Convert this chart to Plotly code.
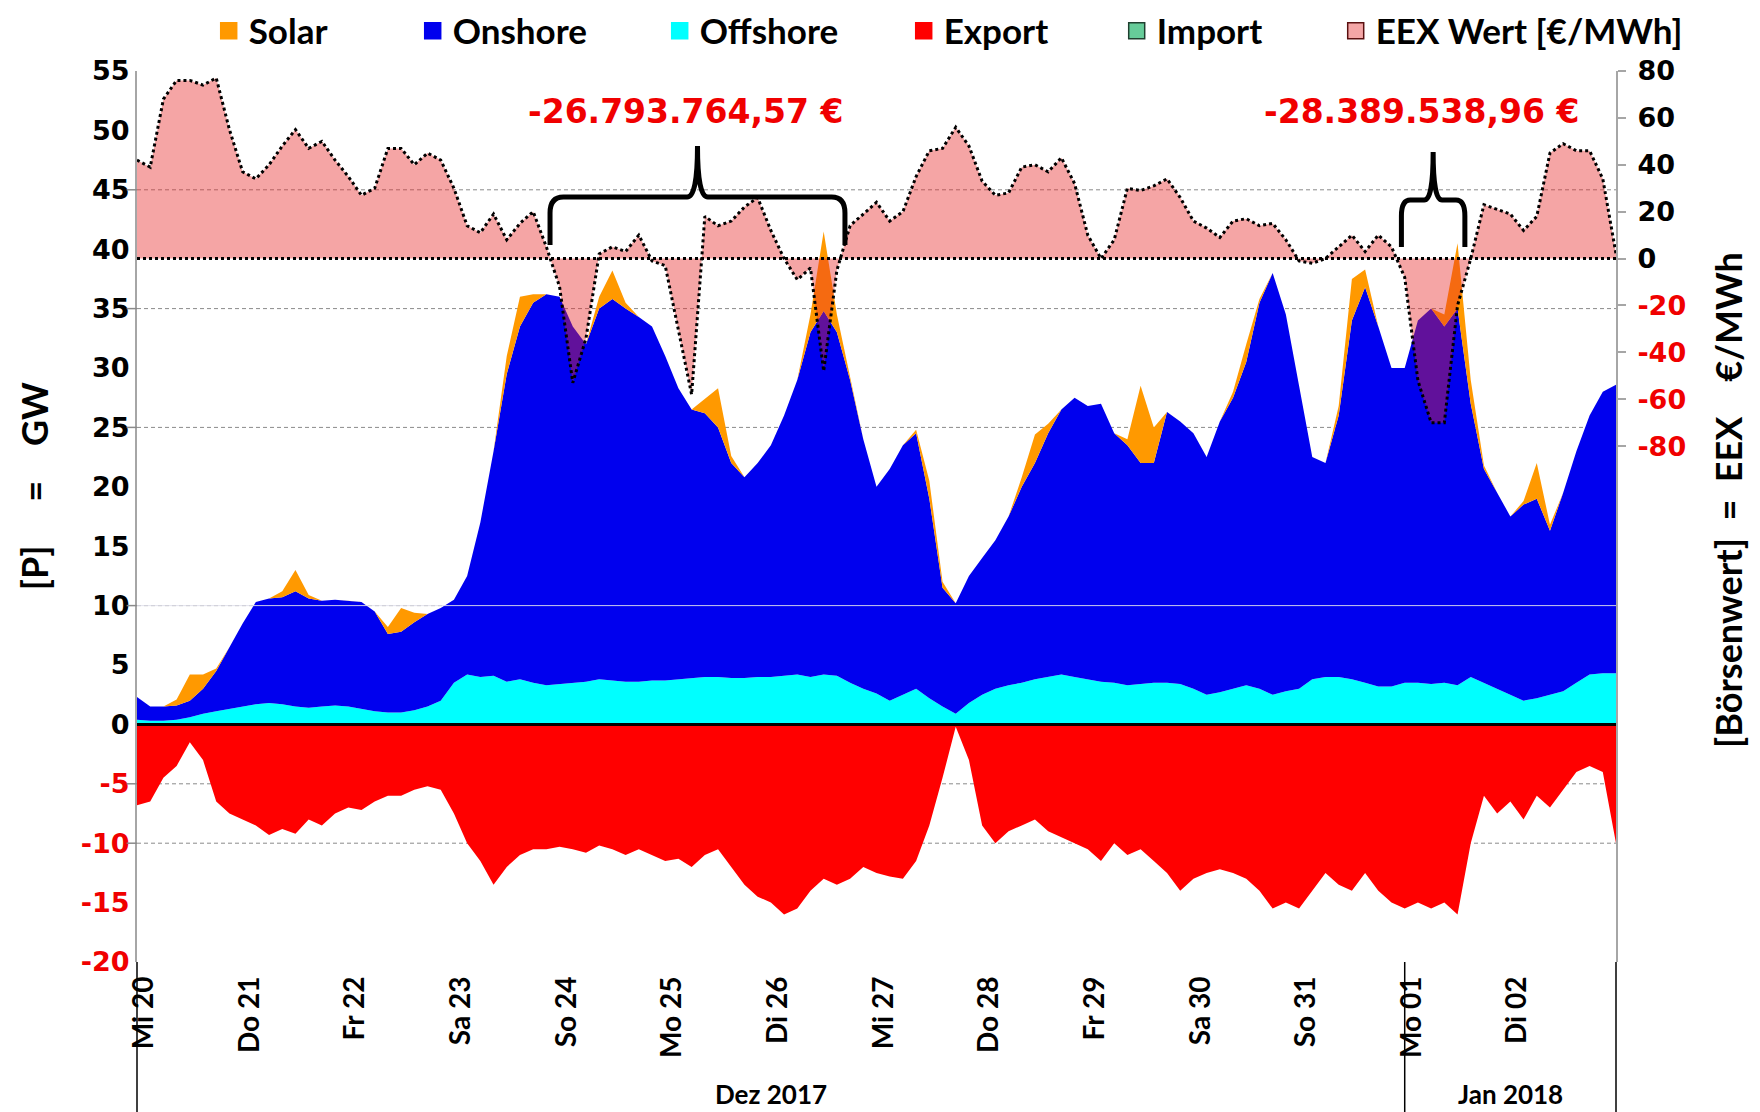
import pandas as pd
import plotly.graph_objects as go

# 3-hour steps, Mi 20.12.2017 00:00 .. Mi 03.01.2018 00:00
times = pd.date_range("2017-12-20", "2018-01-03", freq="3h")

# GW, one row per day (8 values), last value = 03.01. 00:00
offshore = [
    0.4, 0.3, 0.3, 0.4, 0.6, 0.9, 1.1, 1.3,
    1.5, 1.7, 1.8, 1.7, 1.5, 1.4, 1.5, 1.6,
    1.5, 1.3, 1.1, 1.0, 1.0, 1.2, 1.5, 2.0,
    3.5, 4.2, 4.0, 4.1, 3.6, 3.8, 3.5, 3.3,
    3.4, 3.5, 3.6, 3.8, 3.7, 3.6, 3.6, 3.7,
    3.7, 3.8, 3.9, 4.0, 4.0, 3.9, 3.9, 4.0,
    4.0, 4.1, 4.2, 4.0, 4.2, 4.1, 3.5, 3.0,
    2.6, 2.0, 2.5, 3.0, 2.2, 1.5, 0.9, 1.8,
    2.5, 3.0, 3.3, 3.5, 3.8, 4.0, 4.2, 4.0,
    3.8, 3.6, 3.5, 3.3, 3.4, 3.5, 3.5, 3.4,
    3.0, 2.5, 2.7, 3.0, 3.3, 3.0, 2.5, 2.8,
    3.0, 3.8, 4.0, 4.0, 3.8, 3.5, 3.2, 3.2,
    3.5, 3.5, 3.4, 3.5, 3.3, 4.0, 3.5, 3.0,
    2.5, 2.0, 2.2, 2.5, 2.8, 3.5, 4.2, 4.3,
    4.3,
]
onshore = [
    1.9, 1.2, 1.2, 1.2, 1.4, 2.1, 3.4, 5.2,
    7.0, 8.6, 8.8, 9.0, 9.7, 9.2, 8.9, 8.9,
    8.9, 9.0, 8.4, 6.6, 6.8, 7.4, 7.8, 7.8,
    7.0, 8.3, 13.0, 18.9, 25.9, 29.7, 32.0, 32.9,
    32.6, 30.0, 28.4, 31.2, 32.1, 31.4, 30.7, 29.8,
    27.3, 24.5, 22.6, 22.2, 21.0, 18.1, 16.9, 18.0,
    19.5, 21.9, 24.8, 29.0, 30.6, 28.9, 25.5, 21.0,
    17.4, 19.5, 21.0, 21.5, 16.8, 10.0, 9.3, 10.7,
    11.5, 12.5, 14.2, 16.5, 18.2, 20.5, 22.3, 23.5,
    23.0, 23.4, 21.0, 20.2, 18.6, 18.5, 22.8, 22.1,
    21.5, 20.0, 22.8, 24.5, 27.2, 32.5, 35.5, 31.7,
    25.5, 18.7, 18.0, 22.0, 30.2, 33.3, 30.3, 26.8,
    26.5, 30.5, 31.6, 30.0, 31.7, 23.0, 18.0, 16.5,
    15.0, 16.5, 16.8, 13.8, 16.7, 19.5, 21.8, 23.7,
    24.3,
]
solar = [
    0, 0, 0, 0.5, 2.2, 1.2, 0.2, 0,
    0, 0, 0, 0.5, 1.8, 0.3, 0, 0,
    0, 0, 0, 0.6, 2.0, 0.8, 0, 0,
    0, 0, 0, 0, 1.5, 2.5, 0.7, 0,
    0, 0, 0, 1.0, 2.4, 0.5, 0, 0,
    0, 0, 0, 1.2, 3.3, 0.6, 0, 0,
    0, 0, 0, 1.5, 6.7, 1.5, 0.3, 0,
    0, 0, 0, 0.3, 1.5, 0.5, 0, 0,
    0, 0, 0, 0.8, 2.4, 0.8, 0, 0,
    0, 0, 0, 0.5, 6.5, 3.0, 0, 0,
    0, 0, 0, 0.5, 1.5, 0.3, 0, 0,
    0, 0, 0, 0.8, 3.5, 1.5, 0, 0,
    0, 0, 0, 1.0, 5.5, 2.0, 0.3, 0,
    0, 0.3, 3.0, 0.5, 0, 0, 0, 0,
    0,
]
export = [
    -6.8, -6.5, -4.5, -3.5, -1.5, -3.0, -6.5, -7.5,
    -8.0, -8.5, -9.3, -8.8, -9.2, -8.0, -8.5, -7.5,
    -7.0, -7.2, -6.5, -6.0, -6.0, -5.5, -5.2, -5.5,
    -7.5, -10.0, -11.5, -13.5, -12.0, -11.0, -10.5, -10.5,
    -10.3, -10.5, -10.8, -10.2, -10.5, -11.0, -10.5, -11.0,
    -11.5, -11.3, -12.0, -11.0, -10.5, -12.0, -13.5, -14.5,
    -15.0, -16.0, -15.5, -14.0, -13.0, -13.5, -13.0, -12.0,
    -12.5, -12.8, -13.0, -11.5, -8.5, -4.5, -0.2, -3.0,
    -8.5, -10.0, -9.0, -8.5, -8.0, -9.0, -9.5, -10.0,
    -10.5, -11.5, -10.0, -11.0, -10.5, -11.5, -12.5, -14.0,
    -13.0, -12.5, -12.2, -12.5, -13.0, -14.0, -15.5, -15.0,
    -15.5, -14.0, -12.5, -13.5, -14.0, -12.5, -14.0, -15.0,
    -15.5, -15.0, -15.5, -15.0, -16.0, -10.0, -6.0, -7.5,
    -6.5, -8.0, -6.0, -7.0, -5.5, -4.0, -3.5, -4.0,
    -10.0,
]
# EEX price, EUR/MWh
eex = [
    42, 39, 68, 76, 76, 74, 77, 55,
    37, 34, 40, 48, 55, 47, 50, 42,
    35, 27, 30, 47, 47, 40, 45, 42,
    30, 14, 11, 19, 8, 15, 20, 5,
    -12, -53, -34, 2, 5, 3, 10, -1,
    -3, -30, -58, 18, 14, 16, 22, 26,
    12, 0, -9, -4, -48, -5, 14, 19,
    24, 16, 20, 35, 46, 47, 56, 48,
    33, 27, 28, 39, 40, 37, 43, 32,
    10, 0, 8, 30, 29, 31, 34, 26,
    16, 13, 9, 16, 17, 14, 15, 8,
    -1, -2, 0, 5, 10, 3, 10, 5,
    -8, -52, -70, -70, -20, 0, 23, 21,
    19, 12, 18, 45, 49, 46, 46, 34,
    2,
]

day_labels = ["Mi 20", "Do 21", "Fr 22", "Sa 23", "So 24", "Mo 25", "Di 26",
              "Mi 27", "Do 28", "Fr 29", "Sa 30", "So 31", "Mo 01", "Di 02"]
day_ticks = pd.date_range("2017-12-20", periods=len(day_labels), freq="D")

months = ["Dez 2017", "Jan 2018"]
month_bounds = ["2017-12-20", "2018-01-01", "2018-01-03"]

# periods with negative prices and their summed value
neg_sums = ["-26.793.764,57 €", "-28.389.538,96 €"]
neg_periods = [("2017-12-23 21:50", "2017-12-26 16:50"),
               ("2017-12-31 23:15", "2018-01-01 13:40")]

gw_ticks = list(range(55, -25, -5))
gw_grid = [45, 35, 25, 10, -5, -10]
eex_ticks = list(range(80, -100, -20))

C_SOLAR = "#FF9900"
C_ON = "#0000EE"
C_OFF = "#00FFFF"
C_EXP = "#FF0000"
C_IMP = "#66CC99"
C_EEX = "rgba(232,40,40,0.42)"
RED = "#F00000"
NB = "\u00a0"

TXT = dict(family="Lato, Open Sans, sans-serif", weight="bold", color="black")
NUM = dict(family="DejaVu Sans, Verdana, sans-serif", weight="bold", color="black")

fig = go.Figure()

fig.add_trace(go.Scatter(x=times, y=offshore, stackgroup="p", mode="lines",
                         line=dict(width=0), fillcolor=C_OFF, showlegend=False))
fig.add_trace(go.Scatter(x=times, y=onshore, stackgroup="p", mode="lines",
                         line=dict(width=0), fillcolor=C_ON, showlegend=False))
fig.add_trace(go.Scatter(x=times, y=solar, stackgroup="p", mode="lines",
                         line=dict(width=0), fillcolor=C_SOLAR, showlegend=False))
fig.add_trace(go.Scatter(x=times, y=export, mode="lines", fill="tozeroy",
                         line=dict(width=0), fillcolor=C_EXP, showlegend=False))
fig.add_trace(go.Scatter(x=times, y=eex, yaxis="y2", mode="lines", fill="tozeroy",
                         line=dict(color="black", width=3, dash="dot"),
                         fillcolor=C_EEX, showlegend=False))

# legend entries (square swatches), each in its own legend box so the
# uneven spacing of the original can be kept
legend_items = [("Solar", C_SOLAR, C_SOLAR, 220), ("Onshore", C_ON, C_ON, 424),
                ("Offshore", C_OFF, C_OFF, 671), ("Export", C_EXP, C_EXP, 915),
                ("Import", C_IMP, "#1F3F2F", 1128),
                ("EEX Wert [€/MWh]", "#F4A6A6", "#5A1010", 1347)]
legends = {}
for i, (name, col, edge, px) in enumerate(legend_items):
    key = "legend" if i == 0 else f"legend{i + 1}"
    fig.add_trace(go.Scatter(x=[None], y=[None], mode="markers", name=name, legend=key,
                             marker=dict(symbol="square", size=16, color=col,
                                         line=dict(color=edge, width=1.5))))
    legends[key] = dict(orientation="h", xref="container", yref="container",
                        x=(px - 19.3) / 1760, xanchor="left", y=0.9793, yanchor="middle",
                        font=dict(TXT, size=35), bgcolor="rgba(0,0,0,0)")

t0, t1 = times[0], times[-1]


def to_paper(ts):
    return (pd.Timestamp(ts) - t0) / (t1 - t0)


def brace_path(xa, xb, y_bar, y_end, y_tip, rx, ry, rt):
    xc = (xa + xb) / 2
    return (f"M{xa},{y_end} L{xa},{y_bar - ry} Q{xa},{y_bar} {xa + rx},{y_bar} "
            f"L{xc - rt},{y_bar} Q{xc},{y_bar} {xc},{y_tip} "
            f"Q{xc},{y_bar} {xc + rt},{y_bar} L{xb - rx},{y_bar} "
            f"Q{xb},{y_bar} {xb},{y_bar - ry} L{xb},{y_end}")


shapes = []
for v in gw_grid:
    shapes.append(dict(type="line", xref="paper", x0=0, x1=1, yref="y", y0=v, y1=v,
                       line=dict(color="#8A8A8A", width=1, dash="4px,3px"), layer="below"))
    shapes.append(dict(type="line", xref="paper", x0=-0.007, x1=0, yref="y", y0=v, y1=v,
                       line=dict(color="#8A8A8A", width=1.5)))
shapes.append(dict(type="line", xref="paper", x0=0, x1=1, yref="y", y0=10, y1=10,
                   line=dict(color="rgba(225,225,235,0.9)", width=1), layer="above"))
shapes.append(dict(type="line", xref="paper", x0=0, x1=1, yref="y", y0=0, y1=0,
                   line=dict(color="black", width=3), layer="above"))
shapes.append(dict(type="line", xref="paper", x0=0, x1=1, yref="y2", y0=0, y1=0,
                   line=dict(color="black", width=3, dash="dot"), layer="above"))
# category separators below the plot
for xv in [0, to_paper(month_bounds[1]), 1]:
    shapes.append(dict(type="line", xref="paper", x0=xv, x1=xv, yref="paper",
                       y0=0, y1=-0.17, line=dict(color="black", width=1.5)))

spec = [(0.8586, 0.8047, 0.9158, 0.009, 0.018, 0.007),
        (0.8552, 0.8025, 0.9091, 0.006, 0.018, 0.006)]
annotations = []
for (a, b), (yb, ye, yt, rx, ry, rt), txt in zip(neg_periods, spec, neg_sums):
    xa, xb = to_paper(a), to_paper(b)
    shapes.append(dict(type="path", xref="paper", yref="paper",
                       path=brace_path(xa, xb, yb, ye, yt, rx, ry, rt),
                       line=dict(color="black", width=5)))
    annotations.append(dict(text=txt, xref="paper", yref="paper", x=(xa + xb) / 2,
                            xanchor="center", xshift=-12, y=0.954, yanchor="middle",
                            showarrow=False, font=dict(NUM, size=33, color=RED)))

for i, m in enumerate(months):
    a, b = pd.Timestamp(month_bounds[i]), pd.Timestamp(month_bounds[i + 1])
    annotations.append(dict(text=m, x=a + (b - a) / 2, xref="x", xanchor="center",
                            y=-0.148, yref="paper", yanchor="middle", showarrow=False,
                            font=dict(TXT, size=26)))

annotations.append(dict(text=f"[P]{NB * 5}={NB * 4}GW", xref="paper", yref="paper",
                        x=-0.0696, xanchor="center", y=0.534, yanchor="middle",
                        textangle=-90, showarrow=False, font=dict(TXT, size=36)))
annotations.append(dict(text=f"[Börsenwert]{NB * 2}={NB * 2}EEX{NB * 4}€/MWh",
                        xref="paper", yref="paper", x=1.0757, xanchor="center",
                        y=0.5185, yanchor="middle", textangle=-90, showarrow=False,
                        font=dict(TXT, size=36)))


def colored(vals):
    return [str(v) if v >= 0 else f'<span style="color:{RED}">{v}</span>' for v in vals]


# the page body adds an 8 px offset, margins are set so the plot lands at
# x 137..1616, y 71..962 of the window
fig.update_layout(
    width=1760, height=1112,
    template="none",
    paper_bgcolor="white", plot_bgcolor="white",
    margin=dict(l=129, r=152, t=63, b=158, autoexpand=False),
    showlegend=True,
    xaxis=dict(type="date", range=[t0, t1], tickvals=day_ticks, ticktext=day_labels,
               tickangle=-90, ticks="", showgrid=False, zeroline=False, showline=False,
               ticklabelstandoff=8, ticklabelshift=7, tickfont=dict(TXT, size=28)),
    yaxis=dict(range=[-20, 55], tickvals=gw_ticks, ticktext=colored(gw_ticks), ticks="",
               showgrid=False, zeroline=False, showline=True, linecolor="#A6A6A6",
               linewidth=2, tickfont=dict(NUM, size=27)),
    yaxis2=dict(range=[-300, 80], overlaying="y", side="right", tickvals=eex_ticks,
                ticktext=colored(eex_ticks), ticks="outside", ticklen=8,
                tickcolor="#A6A6A6", tickwidth=1.5, showgrid=False, zeroline=False,
                showline=True, linecolor="#A6A6A6", linewidth=2,
                ticklabelstandoff=6, tickfont=dict(NUM, size=27)),
    shapes=shapes,
    annotations=annotations,
    **legends,
)

fig.write_html("out.html")
